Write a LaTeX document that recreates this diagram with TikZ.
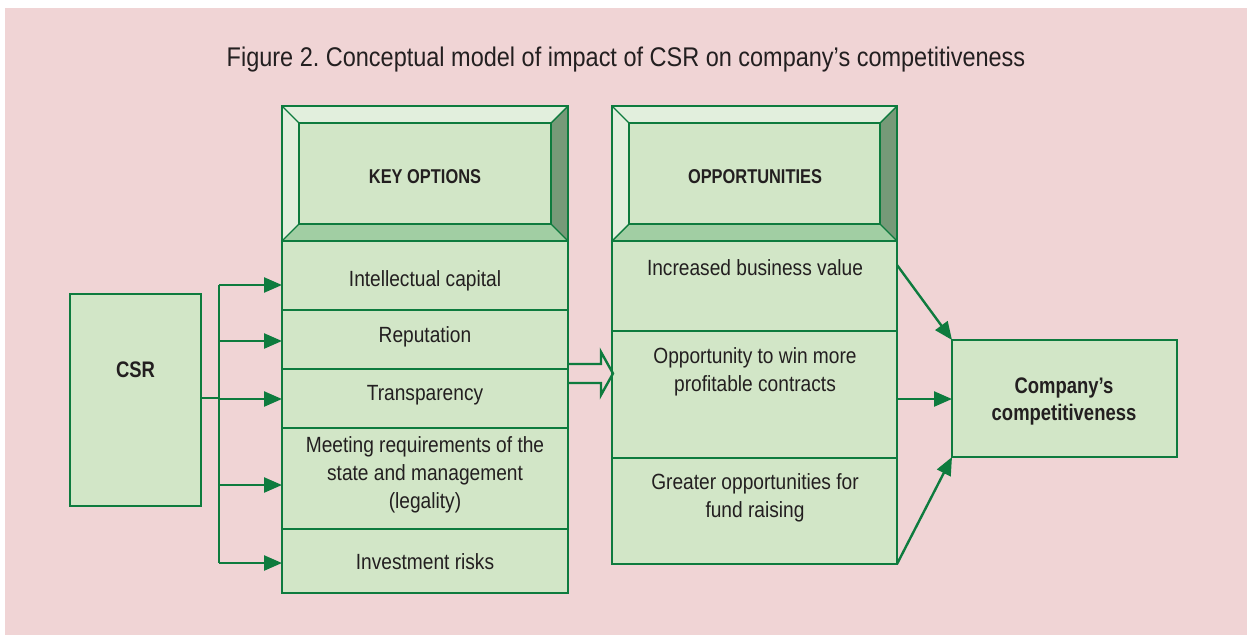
\documentclass[tikz,border=0pt]{standalone}
\usepackage{fontspec}
\setmainfont{Liberation Sans}[FakeStretch=0.87,BoldFeatures={FakeStretch=0.82}]
\usetikzlibrary{arrows.meta}
\frenchspacing
\definecolor{pinkbg}{HTML}{F0D4D5}
\definecolor{boxfill}{HTML}{D2E6C7}
\definecolor{boxline}{HTML}{0E7B3E}
\definecolor{bevlight}{HTML}{E2EFDD}
\definecolor{bevdark}{HTML}{769A78}
\definecolor{bevmid}{HTML}{A1CEA3}
\definecolor{txt}{HTML}{231F20}
\tikzset{
  cell/.style={draw=boxline, fill=boxfill, line width=2.6pt, rectangle, inner sep=0pt, outer sep=0pt, anchor=north west},
  lbl/.style={text=txt, font=\fontsize{22}{27.5}\selectfont, align=center, anchor=base, inner sep=0pt},
  blbl/.style={lbl, font=\fontsize{22.5}{27}\selectfont\bfseries},
  hlbl/.style={lbl, font=\fontsize{20}{24}\selectfont\bfseries},
  conn/.style={draw=boxline, line width=2.4pt},
  tip/.style={-{Triangle[length=18pt,width=15pt]}},
  bevline/.style={draw=boxline, line width=1.4pt},
}
\newcommand\bevelbox[5]{%
  \fill[bevlight] (#1,#2) -- (#3,#2) -- (#3-#5,#2+#5) -- (#1+#5,#2+#5) -- cycle;
  \fill[bevlight] (#1,#2) -- (#1+#5,#2+#5) -- (#1+#5,#4-#5) -- (#1,#4) -- cycle;
  \fill[bevdark] (#3,#2) -- (#3,#4) -- (#3-#5,#4-#5) -- (#3-#5,#2+#5) -- cycle;
  \fill[bevmid] (#1,#4) -- (#3,#4) -- (#3-#5,#4-#5) -- (#1+#5,#4-#5) -- cycle;
  \fill[boxfill] (#1+#5,#2+#5) rectangle (#3-#5,#4-#5);
  \draw[bevline] (#1,#2) -- (#1+#5,#2+#5) (#3,#2) -- (#3-#5,#2+#5)
                 (#1,#4) -- (#1+#5,#4-#5) (#3,#4) -- (#3-#5,#4-#5);
  \draw[boxline, line width=2.2pt] (#1+#5,#2+#5) rectangle (#3-#5,#4-#5);
  \draw[boxline, line width=2.6pt] (#1,#2) rectangle (#3,#4);
}
\begin{document}
\begin{tikzpicture}[x=1pt,y=-1pt]
\useasboundingbox (0,0) rectangle (1247,635);
\fill[pinkbg] (5,8) rectangle (1247,635);

\node[lbl, font=\fontsize{27}{32}\selectfont] (title) at (626,66) {Figure 2. Conceptual model of impact of CSR on company’s competitiveness};

% headers
\bevelbox{282}{106}{568}{241}{17}
\node[hlbl] (kh) at (425,183) {KEY OPTIONS};
\bevelbox{612}{106}{897}{241}{17}
\node[hlbl] (oh) at (755,183) {OPPORTUNITIES};

% key options rows
\node[cell, minimum width=286pt, minimum height=69pt]  (k1) at (282,241) {};
\node[cell, minimum width=286pt, minimum height=59pt]  (k2) at (282,310) {};
\node[cell, minimum width=286pt, minimum height=59pt]  (k3) at (282,369) {};
\node[cell, minimum width=286pt, minimum height=101pt] (k4) at (282,428) {};
\node[cell, minimum width=286pt, minimum height=64pt]  (k5) at (282,529) {};
\node[lbl] (k1t) at (425,286) {Intellectual capital};
\node[lbl] (k2t) at (425,342) {Reputation};
\node[lbl] (k3t) at (425,400) {Transparency};
\node[lbl, font=\fontsize{22}{28}\selectfont] (k4t) at (425,508) {Meeting requirements of the\\state and management\\(legality)};
\node[lbl] (k5t) at (425,569) {Investment risks};

% opportunities rows
\node[cell, minimum width=285pt, minimum height=90pt]  (o1) at (612,241) {};
\node[cell, minimum width=285pt, minimum height=127pt] (o2) at (612,331) {};
\node[cell, minimum width=285pt, minimum height=106pt] (o3) at (612,458) {};
\node[lbl] (o1t) at (755,275) {Increased business value};
\node[lbl] (o2t) at (755,391) {Opportunity to win more\\profitable contracts};
\node[lbl] (o3t) at (755,517) {Greater opportunities for\\fund raising};

% CSR and company
\node[cell, minimum width=131pt, minimum height=212pt] (csr) at (70,294) {};
\node[blbl] (csrt) at (135.5,377) {CSR};
\node[cell, minimum width=225pt, minimum height=117pt] (comp) at (952,340) {};
\node[blbl] (compt) at (1064,420) {Company’s\\competitiveness};

% CSR connectors
\coordinate (bc) at (219,398);
\coordinate (b1) at (219,285);
\coordinate (b2) at (219,341);
\coordinate (b3) at (219,399);
\coordinate (b4) at (219,485);
\coordinate (b5) at (219,563);
\draw[conn] (csr.east |- bc) -- (bc);
\draw[conn] (b1) -- (b5);
\draw[conn, tip] (b1) -- (b1 -| k1.west);
\draw[conn, tip] (b2) -- (b2 -| k2.west);
\draw[conn, tip] (b3) -- (b3 -| k3.west);
\draw[conn, tip] (b4) -- (b4 -| k4.west);
\draw[conn, tip] (b5) -- (b5 -| k5.west);

% hollow block arrow
\draw[boxline, line width=2.4pt, line join=miter] (568,364) -- (601,364) -- (601,352) -- (613,373.5) -- (601,395) -- (601,383) -- (568,383);

% to company
\coordinate (s1) at (897,265);
\coordinate (s2) at (897,399);
\draw[conn, tip] (s1) -- (comp.north west);
\draw[conn, tip] (s2) -- (s2 -| comp.west);
\draw[conn, tip] (o3.south east) -- (comp.south west);
\end{tikzpicture}
\end{document}
